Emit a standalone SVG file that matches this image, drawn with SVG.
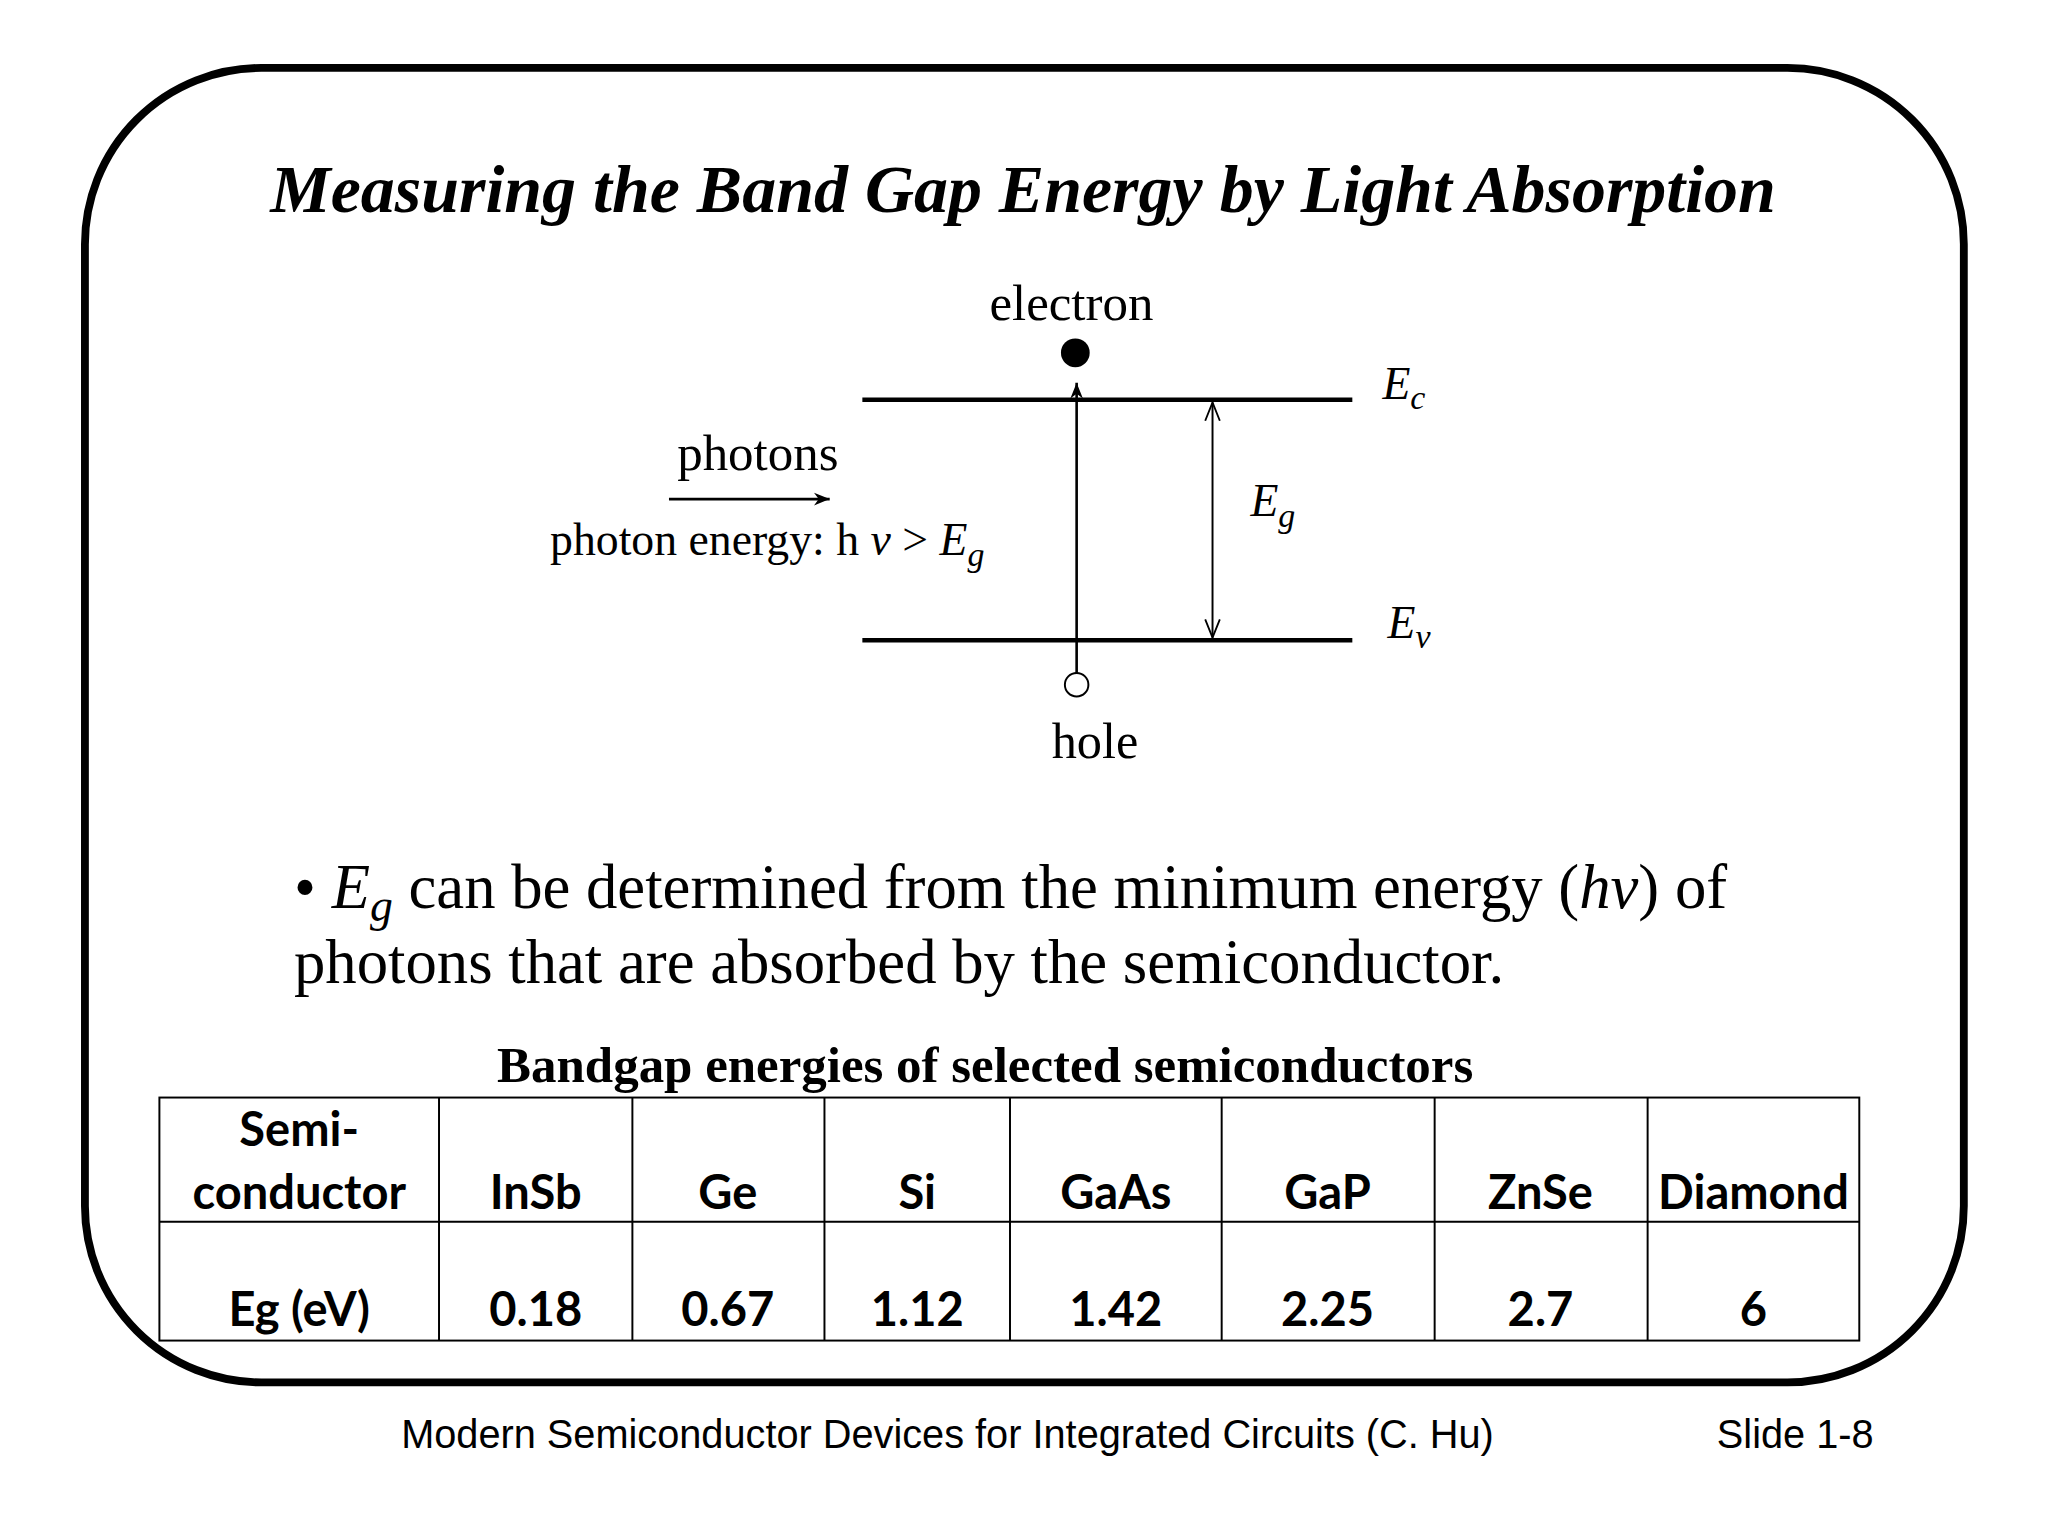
<svg xmlns="http://www.w3.org/2000/svg" width="2048" height="1536" viewBox="0 0 2048 1536">
<defs>
<style>
.t{font-family:"Liberation Serif","Times New Roman",serif;fill:#000}
.i{font-style:italic}
.c{font-family:Lato,"Open Sans",sans-serif;font-weight:bold;font-size:36px;text-anchor:middle}
.f{font-family:"Liberation Sans",Arial,sans-serif;font-size:30.4px}
.ln{stroke:#000;fill:none}
</style>
<marker id="ah" viewBox="0 0 10 10" refX="10" refY="5" markerWidth="12" markerHeight="12" markerUnits="userSpaceOnUse" orient="auto-start-reverse"><path d="M0,1 L10,5 L0,9 L3,5 Z" fill="#000"/></marker>
<marker id="oa" viewBox="0 0 10 10" refX="10" refY="5" markerWidth="14" markerHeight="14" markerUnits="userSpaceOnUse" orient="auto-start-reverse"><path d="M0,1 L10,5 L0,9" fill="none" stroke="#000" stroke-width="1"/></marker>
</defs>
<rect width="2048" height="1536" fill="#fff"/>
<g transform="scale(1.3066)">
<rect id="frame" x="65" y="52" width="1438" height="1006" rx="135" ry="135" class="ln" stroke-width="6"/>
<text id="title" class="t i" x="783" y="162" font-size="52" font-weight="bold" text-anchor="middle">Measuring the Band Gap Energy by Light Absorption</text>
<g id="bands">
<line x1="660" y1="306" x2="1035" y2="306" class="ln" stroke-width="3.5"/>
<line x1="660" y1="490" x2="1035" y2="490" class="ln" stroke-width="3.5"/>
<text class="t i" x="1058" y="305" font-size="35">E<tspan font-size="26" dy="8">c</tspan></text>
<text class="t i" x="1062" y="488" font-size="35">E<tspan font-size="26" dy="8">v</tspan></text>
</g>
<g id="electron"><text class="t" x="820" y="245" font-size="39" text-anchor="middle">electron</text><circle cx="823" cy="270" r="11" fill="#000"/></g>
<g id="hole"><circle cx="824" cy="524" r="9" fill="#fff" stroke="#000" stroke-width="1.5"/><text class="t" x="838" y="580" font-size="38.5" text-anchor="middle">hole</text></g>
<g id="photons"><text class="t" x="580" y="360" font-size="39" text-anchor="middle">photons</text>
<text class="t" x="421" y="425" font-size="35">photon energy: h <tspan class="i">ν</tspan> &gt; <tspan class="i">E</tspan><tspan class="i" font-size="26" dy="8">g</tspan></text></g>
<g id="eg"><text class="t i" x="957" y="395" font-size="35">E<tspan font-size="26" dy="8">g</tspan></text></g>
<g id="connectors">
<line x1="824" y1="515" x2="824" y2="293" class="ln" stroke-width="2" marker-end="url(#ah)"/>
<line x1="928" y1="308" x2="928" y2="488" class="ln" stroke-width="1.5" marker-start="url(#oa)" marker-end="url(#oa)"/>
<line x1="512" y1="382" x2="635" y2="382" class="ln" stroke-width="2" marker-end="url(#ah)"/>
</g>
<g id="bullet">
<text class="t" x="225" y="695" font-size="48">• <tspan class="i">E</tspan><tspan class="i" font-size="35" dy="10">g</tspan><tspan dy="-10"> can be determined from the minimum energy (</tspan><tspan class="i">h</tspan><tspan class="i">ν</tspan>) of</text>
<text class="t" x="225" y="752" font-size="48">photons that are absorbed by the semiconductor.</text>
</g>
<g id="table">
<text class="t" x="754" y="828" font-size="39" font-weight="bold" text-anchor="middle">Bandgap energies of selected semiconductors</text>
<rect x="122" y="840" width="1301" height="186" class="ln" stroke-width="1.5"/>
<line x1="122" y1="935" x2="1423" y2="935" class="ln" stroke-width="1.5"/>
<path d="M336,840V1026M484,840V1026M631,840V1026M773,840V1026M935,840V1026M1098,840V1026M1261,840V1026" class="ln" stroke-width="1.5"/>
<text class="c" x="229" y="877">Semi-</text>
<text class="c" x="229" y="925">conductor</text>
<text class="c" x="410" y="925">InSb</text>
<text class="c" x="557" y="925">Ge</text>
<text class="c" x="702" y="925">Si</text>
<text class="c" x="854" y="925">GaAs</text>
<text class="c" x="1016" y="925">GaP</text>
<text class="c" x="1179" y="925">ZnSe</text>
<text class="c" x="1342" y="925">Diamond</text>
<text class="c" x="229" y="1015">Eg (eV)</text>
<text class="c" x="410" y="1015">0.18</text>
<text class="c" x="557" y="1015">0.67</text>
<text class="c" x="702" y="1015">1.12</text>
<text class="c" x="854" y="1015">1.42</text>
<text class="c" x="1016" y="1015">2.25</text>
<text class="c" x="1179" y="1015">2.7</text>
<text class="c" x="1342" y="1015">6</text>
</g>
<g id="footer">
<text class="f" x="307" y="1108">Modern Semiconductor Devices for Integrated Circuits (C. Hu)</text>
<text class="f" x="1314" y="1108">Slide 1-8</text>
</g>
</g>
</svg>
